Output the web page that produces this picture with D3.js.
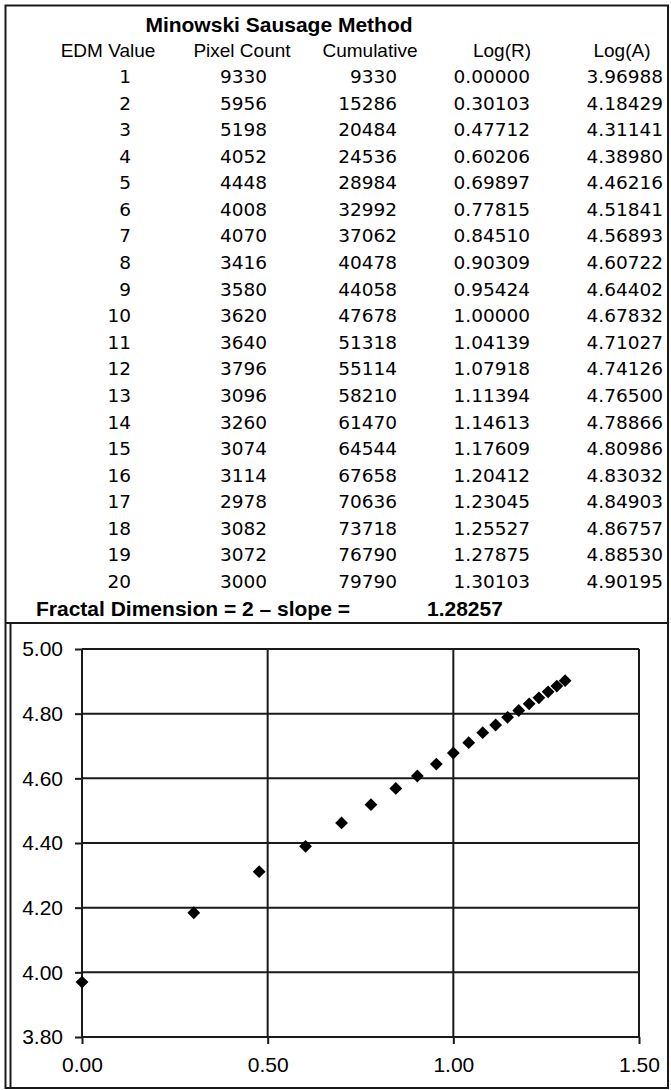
<!DOCTYPE html>
<html><head><meta charset="utf-8">
<script src="https://cdn.jsdelivr.net/npm/d3@7"></script>
<style>body{margin:0;background:#fff}svg{display:block}</style>
</head><body>
<script>
const title = "Minowski Sausage Method";
const headers = ["EDM Value","Pixel Count","Cumulative","Log(R)","Log(A)"];
const edm = [1,2,3,4,5,6,7,8,9,10,11,12,13,14,15,16,17,18,19,20];
const pixelCount = [9330,5956,5198,4052,4448,4008,4070,3416,3580,3620,3640,3796,3096,3260,3074,3114,2978,3082,3072,3000];
const cumulative = [9330,15286,20484,24536,28984,32992,37062,40478,44058,47678,51318,55114,58210,61470,64544,67658,70636,73718,76790,79790];
const logR = [0.00000,0.30103,0.47712,0.60206,0.69897,0.77815,0.84510,0.90309,0.95424,1.00000,1.04139,1.07918,1.11394,1.14613,1.17609,1.20412,1.23045,1.25527,1.27875,1.30103];
const logA = [3.96988,4.18429,4.31141,4.38980,4.46216,4.51841,4.56893,4.60722,4.64402,4.67832,4.71027,4.74126,4.76500,4.78866,4.80986,4.83032,4.84903,4.86757,4.88530,4.90195];
const fractalLabel = "Fractal Dimension = 2 \u2013 slope =";
const fractalValue = "1.28257";
const xTicks = [0,0.5,1.0,1.5];
const yTicks = [3.8,4.0,4.2,4.4,4.6,4.8,5.0];

const W = 671, H = 1090;
const svg = d3.select("body").append("svg").attr("width",W).attr("height",H);
const ink = "#1a1a1a";
const sans = "'Liberation Sans', Arial, Helvetica, sans-serif";
const numFont = "'DejaVu Sans', Verdana, sans-serif";

// frame
svg.append("rect").attr("x",5.5).attr("y",5.5).attr("width",662.5).attr("height",1082.5)
  .attr("fill","none").attr("stroke",ink).attr("stroke-width",2);
svg.append("line").attr("x1",5.5).attr("x2",668).attr("y1",623).attr("y2",623).attr("stroke",ink).attr("stroke-width",2);
svg.append("line").attr("x1",10.5).attr("x2",10.5).attr("y1",623).attr("y2",1088).attr("stroke",ink).attr("stroke-width",2);

// table
svg.append("text").attr("x",279).attr("y",32).attr("text-anchor","middle")
  .attr("font-family",sans).attr("font-weight","bold").attr("font-size",21).attr("fill","#000").text(title);
const headerX = [108,242,370,502,622];
svg.selectAll("text.hdr").data(headers).join("text").attr("class","hdr")
  .attr("x",(d,i)=>headerX[i]).attr("y",57).attr("text-anchor","middle")
  .attr("font-family",sans).attr("font-size",19).attr("fill","#000").text(d=>d);

const rowY = d3.scaleLinear().domain([1,20]).range([83,588]);
const colRight = [131,267,397,530,663];
const rows = edm.map((e,i)=>[String(e),String(pixelCount[i]),String(cumulative[i]),logR[i].toFixed(5),logA[i].toFixed(5)]);
rows.forEach((r,i)=>{
  svg.selectAll(null).data(r).join("text")
    .attr("x",(d,j)=>colRight[j]).attr("y",rowY(edm[i])).attr("text-anchor","end")
    .attr("font-family",numFont).attr("font-size",18.5).attr("fill","#000").text(d=>d);
});

svg.append("text").attr("x",36).attr("y",616).attr("font-family",sans).attr("font-weight","bold")
  .attr("font-size",21).attr("fill","#000").text(fractalLabel);
svg.append("text").attr("x",427).attr("y",616).attr("font-family",sans).attr("font-weight","bold")
  .attr("font-size",21).attr("fill","#000").text(fractalValue);

// chart
const x = d3.scaleLinear().domain([0,1.5]).range([82,639]);
const y = d3.scaleLinear().domain([3.8,5.0]).range([1037,649]);
const g = svg.append("g");
g.selectAll("line.hg").data(yTicks).join("line").attr("class","hg")
  .attr("x1",x(0)).attr("x2",x(1.5)).attr("y1",d=>y(d)).attr("y2",d=>y(d))
  .attr("stroke",ink).attr("stroke-width",2);
g.selectAll("line.vg").data(xTicks).join("line").attr("class","vg")
  .attr("x1",d=>x(d)).attr("x2",d=>x(d)).attr("y1",y(5.0)).attr("y2",y(3.8))
  .attr("stroke",ink).attr("stroke-width",2);

const yAxis = g.append("g").attr("transform",`translate(${x(0)},0)`)
  .call(d3.axisLeft(y).tickValues(yTicks).tickFormat(d3.format(".2f")).tickSize(7).tickPadding(12));
const xAxis = g.append("g").attr("transform",`translate(0,${y(3.8)})`)
  .call(d3.axisBottom(x).tickValues(xTicks).tickFormat(d3.format(".2f")).tickSize(7).tickPadding(13));
[yAxis,xAxis].forEach(a=>{
  a.select(".domain").remove();
  a.selectAll(".tick line").attr("stroke",ink).attr("stroke-width",2);
  a.selectAll(".tick text").attr("font-family",sans).attr("font-size",21).attr("fill","#000");
});

const sym = d3.symbol().type(d3.symbolSquare).size(82);
g.selectAll("path.pt").data(logR.map((r,i)=>[r,logA[i]])).join("path").attr("class","pt")
  .attr("d",sym).attr("transform",d=>`translate(${x(d[0])},${y(d[1])}) rotate(45)`).attr("fill","#000");
</script>
</body></html>
